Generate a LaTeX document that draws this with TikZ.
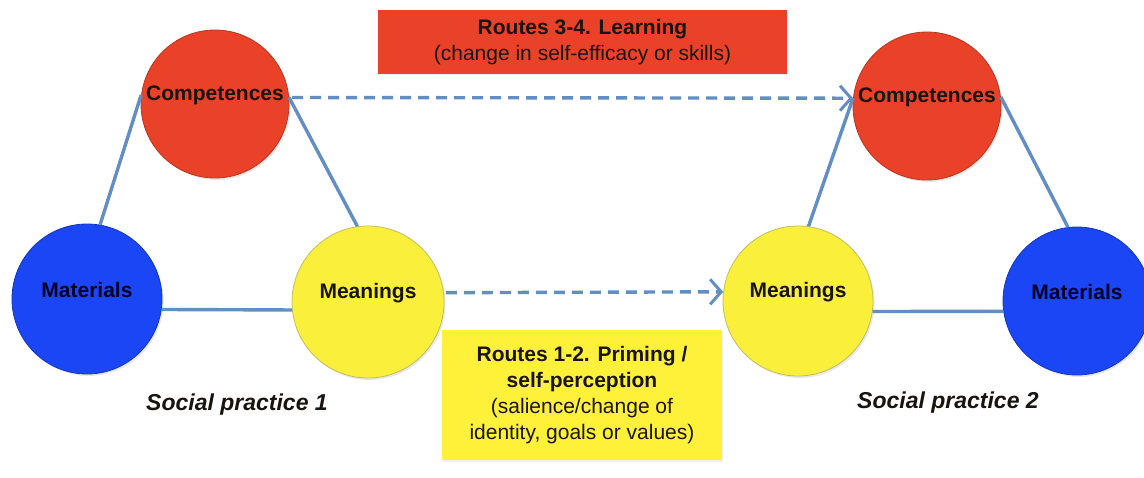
\documentclass[tikz,border=0pt]{standalone}
\usepackage{fontspec}
\setmainfont{Liberation Sans}
\usetikzlibrary{arrows.meta,shadows}
\definecolor{cred}{RGB}{233,66,40}
\definecolor{cblue}{RGB}{26,70,245}
\definecolor{cyel}{RGB}{250,240,60}
\definecolor{boxyel}{RGB}{255,241,58}
\definecolor{clink}{RGB}{98,142,196}
\definecolor{ctext}{RGB}{25,20,15}
\tikzset{
  elem/.style={circle, minimum size=150pt, inner sep=0pt, line width=0.8pt,
    drop shadow={opacity=0.18, shadow xshift=1.5pt, shadow yshift=-2pt}},
  redel/.style={elem, fill=cred, draw=cred!80!black},
  blueel/.style={elem, fill=cblue, draw=cblue!75!black},
  yelel/.style={elem, fill=cyel, draw=cyel!55!gray},
  ctxt/.style={font=\fontsize{21}{24}\selectfont\bfseries, text=ctext, yshift=9pt},
  link/.style={draw=clink, line width=3.4pt},
  route/.style={draw=clink, line width=3.4pt, dash pattern=on 11pt off 7pt,
    -{Straight Barb[length=11pt,width=25pt,line width=3pt]}},
  routebox/.style={inner sep=0pt, align=center, text=ctext,
    font=\fontsize{21}{26}\selectfont,
    drop shadow={opacity=0.12, shadow xshift=1pt, shadow yshift=-1.5pt}},
  splabel/.style={font=\fontsize{23}{26}\selectfont\bfseries\itshape, text=ctext}
}
\begin{document}
\begin{tikzpicture}[x=1pt,y=-1pt]
\useasboundingbox (0,0) rectangle (1144,478);
\fill[white] (0,0) rectangle (1144,478);

% boxes
\node[routebox, fill=cred, minimum width=409pt, minimum height=64pt] (rbox) at (582.5,42)
  {\textbf{Routes 3-4. Learning}\\(change in self-efficacy or skills)};
\node[routebox, fill=boxyel, minimum width=280pt, minimum height=130pt] (ybox) at (582,395)
  {\textbf{Routes 1-2. Priming /}\\\textbf{self-perception}\\(salience/change of\\identity, goals or values)};

% practice 1
\node[redel, minimum size=148pt, label={[ctxt]center:Competences}] (c1) at (215,104) {};
\node[blueel, label={[ctxt, text=black!85!blue]center:Materials}] (m1) at (87,299) {};
\node[yelel, minimum size=152pt, label={[ctxt]center:Meanings}] (n1) at (368,302) {};

% practice 2
\node[redel, minimum size=148pt, label={[ctxt]center:Competences}] (c2) at (927,106) {};
\node[yelel, label={[ctxt]center:Meanings}] (n2) at (798,301) {};
\node[blueel, minimum size=148pt, label={[ctxt, text=black!85!blue]center:Materials}] (m2) at (1077,301) {};

% links
\draw[link] (c1.173) -- (m1.80);
\draw[link] (c1.5) -- (n1.98);
\draw[link] (m1.-8) -- (n1.186);
\draw[link] (n2.82) -- (c2.174);
\draw[link] (c2.7) -- (m2.97);
\draw[link] (n2.-8) -- (m2.188);

% routes
\draw[route] ([xshift=3pt]c1.5) -- (c2.174);
\draw[route] ([xshift=2pt]n1.7) -- (n2.173);

% labels
\node[splabel] (sp1) at (237,405) {Social practice 1};
\node[splabel] (sp2) at (948,403) {Social practice 2};
\end{tikzpicture}
\end{document}
